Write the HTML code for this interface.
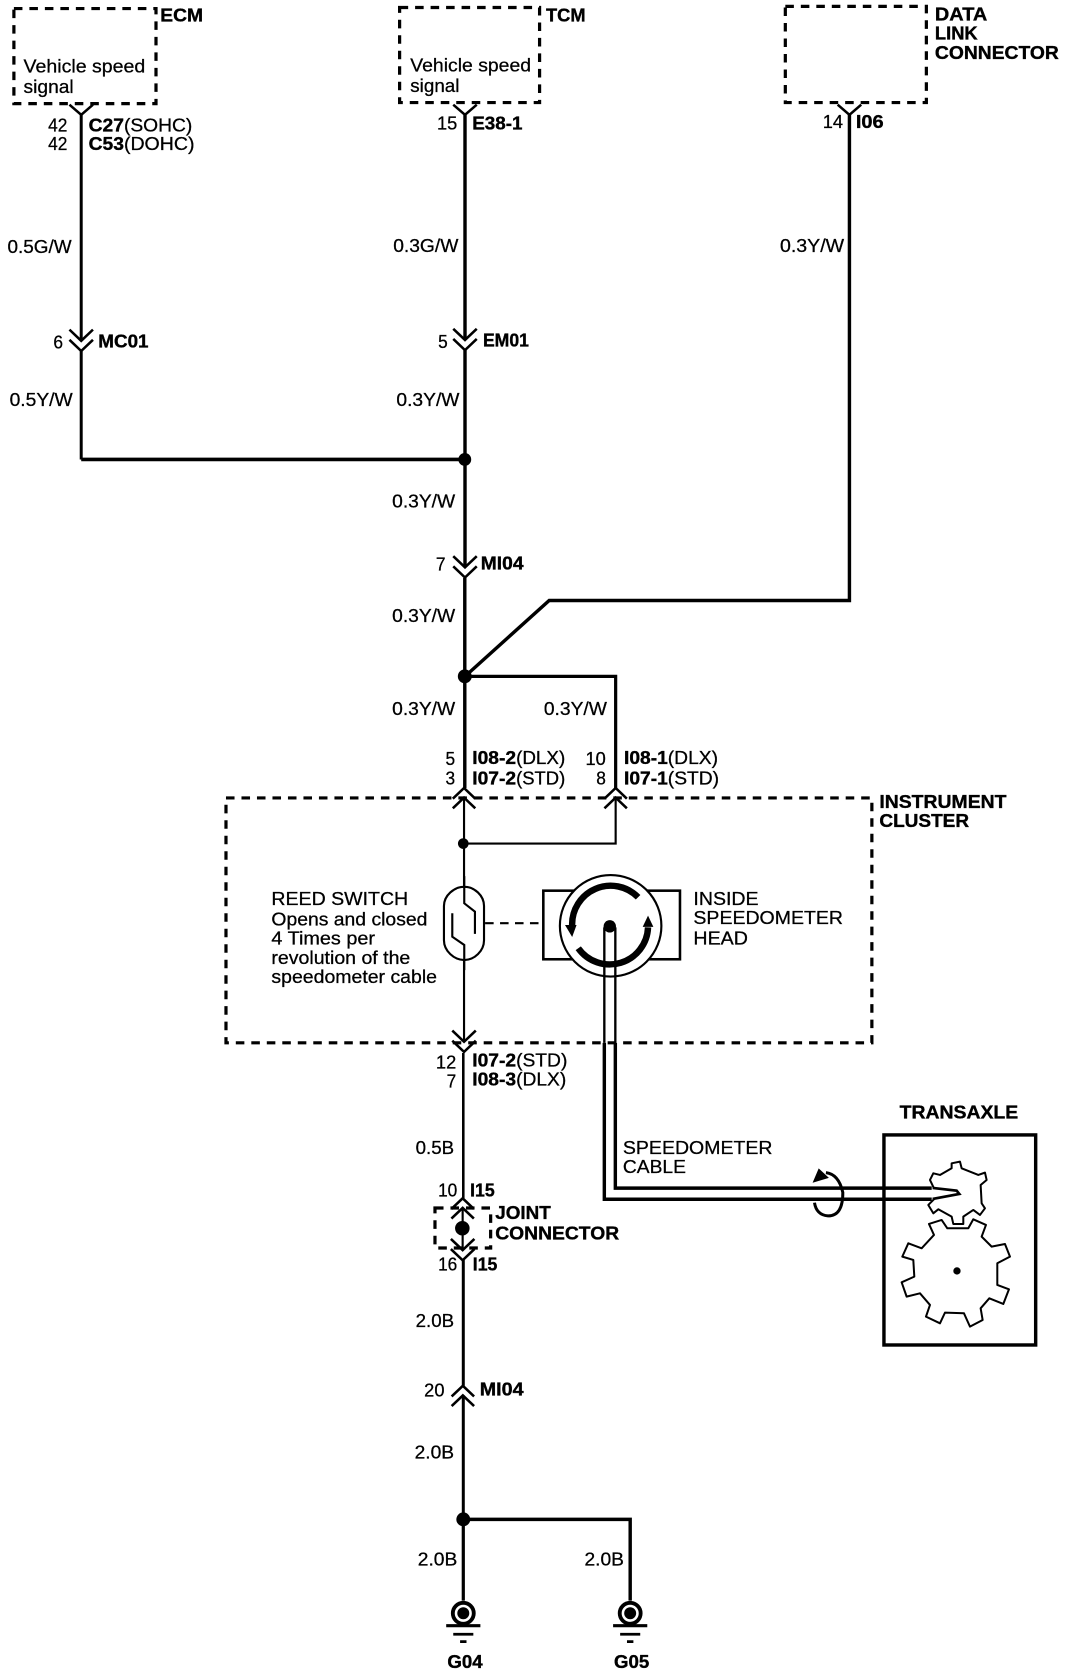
<!DOCTYPE html>
<html>
<head>
<meta charset="utf-8">
<title>Vehicle speed signal circuit diagram</title>
<style>
html,body{margin:0;padding:0;background:#fff;width:1072px;height:1676px;overflow:hidden}
svg{display:block}
text{font-family:"Liberation Sans",sans-serif;font-size:17px;fill:#000;stroke:#000;stroke-width:.25}
.b{font-weight:bold;stroke-width:.35}
.w{fill:none;stroke:#000;stroke-linecap:butt;stroke-linejoin:miter}
.d{fill:none;stroke:#000;stroke-width:3;stroke-dasharray:8 6.5}
</style>
</head>
<body>
<svg xmlns="http://www.w3.org/2000/svg" width="1072" height="1676" viewBox="0 0 1003.3 1568.6">
<defs>
<path id="dn" class="w" stroke-width="2.4" d="M-11,-10.5 L0,0 L11,-10.5 M-11,-1 L0,9.5 L11,-1"/>
<path id="up" class="w" stroke-width="2.4" d="M-10.5,10 L0,0 L10.5,10 M-10.5,19 L0,9 L10.5,19"/>
<path id="y" class="w" stroke-width="2.4" d="M-11,-9.5 L0,0 L11,-9.5"/>
<g id="gnd">
<circle cx="0" cy="0" r="9.8" fill="#fff" stroke="#000" stroke-width="3.6"/>
<circle cx="0" cy="0" r="5.6" fill="#000"/>
<path class="w" stroke-width="3" d="M-16,11.6 H16"/>
<path class="w" stroke-width="2.6" d="M-9.4,19.6 H9.4 M-3,26.5 H3"/>
</g>
</defs>

<!-- module boxes -->
<rect class="d" x="13" y="8" width="133" height="89"/>
<rect class="d" x="374" y="7" width="131" height="89"/>
<rect class="d" x="735" y="6" width="132" height="90"/>

<!-- wires -->
<path class="w" stroke-width="2.8" d="M76,107.5 V319 M76,328 V430"/>
<path class="w" stroke-width="3.4" d="M76,430 H435"/>
<path class="w" stroke-width="3.2" d="M435.2,107.5 V318 M435.2,327.5 V531 M435,540.8 V737.5"/>
<path class="w" stroke-width="3.2" d="M795,107.5 V562 H514 L435.2,633"/>
<path class="w" stroke-width="3" d="M435,633 H576.2 V737.5"/>
<path class="w" stroke-width="2" d="M434.3,746.5 V975 M434.3,789.5 H576.2 V746.5"/>
<path class="w" stroke-width="2.4" d="M433.6,985.5 V1121.5"/>
<path class="w" stroke-width="2" d="M433,1130 V1170.5"/>
<path class="w" stroke-width="2.8" d="M433.6,1179 V1297 M433.6,1306 V1422"/>
<path class="w" stroke-width="3.2" d="M433.6,1422 H589.8 V1498"/>
<path class="w" stroke-width="3" d="M433.6,1422 V1498"/>

<circle cx="435" cy="430" r="6" fill="#000"/>
<circle cx="435" cy="633" r="6.5" fill="#000"/>
<circle cx="433.6" cy="789.5" r="5" fill="#000"/>
<circle cx="433.6" cy="1422" r="6.5" fill="#000"/>
<circle cx="432.7" cy="1149.5" r="6.8" fill="#000"/>

<!-- connectors -->
<use href="#y" x="76" y="107.5"/>
<use href="#y" x="435.2" y="107.5"/>
<use href="#y" x="795" y="107.5"/>
<use href="#dn" x="76" y="319"/>
<use href="#dn" x="435.2" y="318.2"/>
<use href="#dn" x="435.2" y="531"/>
<use href="#up" x="434.3" y="737.5"/>
<use href="#up" x="576.2" y="737.5"/>
<use href="#dn" x="434.3" y="975"/>
<use href="#up" x="433.2" y="1297"/>
<use href="#up" x="433" y="1121.5"/>
<use href="#dn" x="433" y="1170"/>

<!-- cluster + joint -->
<rect class="d" x="211.5" y="746.8" width="604.5" height="229.2"/>
<rect class="d" x="407.1" y="1130.6" width="52.1" height="37.4"/>

<!-- reed switch -->
<path d="M434.5,830 C444,830 453,838 453,848 V880 C453,890 444,898.5 434.5,898.5 C425,898.5 415.5,890 415.5,880 V848 C415.5,838 425,830 434.5,830 Z" fill="#fff" stroke="#000" stroke-width="2"/>
<path class="w" stroke-width="2" d="M434.5,820 V845.4 L444.5,853.2 V874 M423.3,854.7 V876.7 L434.5,884.4 V908"/>
<path class="w" stroke-width="2" stroke-dasharray="8 6" d="M454,864 H508.5"/>

<!-- speedometer head -->
<rect x="508.5" y="833.6" width="127.9" height="64.2" fill="#fff" stroke="#000" stroke-width="2.4"/>
<circle cx="571.5" cy="866.5" r="47.5" fill="#fff" stroke="#000" stroke-width="2"/>
<path class="w" stroke-width="6" d="M597.2,839.8 A36,36 0 0 0 535.5,866.5"/>
<path d="M528.8,865.7 L539.6,865.7 L535.5,877 Z" fill="#000"/>
<path class="w" stroke-width="6" d="M541.2,887.5 A36,36 0 0 0 606.5,868"/>
<path d="M601.5,867.5 L611.5,867.5 L606.5,857 Z" fill="#000"/>
<path class="w" stroke-width="2.2" d="M565.6,868 V976 M575.9,868 V976"/>
<circle cx="570.7" cy="867" r="5.8" fill="#000"/>

<!-- speedometer cable -->
<path class="w" stroke-width="3.2" d="M565.6,976 V1122.4 H872"/>
<path class="w" stroke-width="3.2" d="M575.9,976 V1112 H872"/>

<!-- transaxle -->
<rect x="827.3" y="1062.2" width="142" height="196.6" fill="none" stroke="#000" stroke-width="3.2"/>
<g transform="scale(0.93589) translate(860,1120) scale(0.33333)">
<path fill="#fff" stroke="#000" stroke-width="6" stroke-linejoin="round" d="M207,312 L245,300 L262,325 L325,325 L340,298 L378,315 L365,350 L395,380 L435,372 L450,410 L412,430 L412,495 L447,508 L430,552 L388,535 L362,565 L368,600 L330,620 L312,580 L255,578 L240,610 L198,590 L210,555 L180,520 L140,530 L125,487 L163,470 L160,420 L127,410 L145,370 L185,385 L222,345 Z"/>
<circle cx="291" cy="453" r="11" fill="#000"/>
<path fill="#fff" stroke="#000" stroke-width="6" stroke-linejoin="round" d="M275,130 L300,125 L305,145 L355,165 L375,158 L380,180 L362,195 L365,250 L375,265 L360,285 L340,270 L310,290 L310,312 L280,312 L275,290 L235,268 L220,280 L205,255 L225,235 L222,205 L210,180 L220,160 L240,165 L275,145 Z"/>
<path fill="#fff" stroke="#000" stroke-width="8" d="M218,204 L290,212 L298,222 L218,237"/>
</g>

<!-- rotation arrow -->
<path class="w" stroke-width="2.8" d="M773,1097.5 Q785,1099 788.8,1116 Q789,1138 775,1138 Q764,1137 762.3,1125.6"/>
<path d="M766.4,1094.4 L761.4,1106.2 L774.8,1102.2 Z" fill="#000" stroke="#000" stroke-width="1"/>

<!-- grounds -->
<use href="#gnd" x="433.6" y="1509.9"/>
<use href="#gnd" x="589.8" y="1509.9"/>

<!-- labels -->
<text class="b" x="150" y="20" textLength="40" lengthAdjust="spacingAndGlyphs">ECM</text>
<text class="b" x="511" y="20" textLength="37" lengthAdjust="spacingAndGlyphs">TCM</text>
<text class="b" x="875" y="19" textLength="49" lengthAdjust="spacingAndGlyphs">DATA</text>
<text class="b" x="875" y="37" textLength="40" lengthAdjust="spacingAndGlyphs">LINK</text>
<text class="b" x="875" y="55" textLength="116" lengthAdjust="spacingAndGlyphs">CONNECTOR</text>
<text x="22" y="68" textLength="114" lengthAdjust="spacingAndGlyphs">Vehicle speed</text>
<text x="22" y="87" textLength="47" lengthAdjust="spacingAndGlyphs">signal</text>
<text x="384" y="67" textLength="113" lengthAdjust="spacingAndGlyphs">Vehicle speed</text>
<text x="384" y="86" textLength="46" lengthAdjust="spacingAndGlyphs">signal</text>

<text x="45" y="123" textLength="18" lengthAdjust="spacingAndGlyphs">42</text>
<text x="45" y="140.5" textLength="18" lengthAdjust="spacingAndGlyphs">42</text>
<text class="b" x="83" y="123" textLength="33" lengthAdjust="spacingAndGlyphs">C27</text>
<text x="116" y="123" textLength="64" lengthAdjust="spacingAndGlyphs">(SOHC)</text>
<text class="b" x="83" y="140.5" textLength="33" lengthAdjust="spacingAndGlyphs">C53</text>
<text x="116" y="140.5" textLength="66" lengthAdjust="spacingAndGlyphs">(DOHC)</text>
<text x="409" y="121" textLength="19" lengthAdjust="spacingAndGlyphs">15</text>
<text class="b" x="442" y="121" textLength="47" lengthAdjust="spacingAndGlyphs">E38-1</text>
<text x="770" y="120" textLength="19" lengthAdjust="spacingAndGlyphs">14</text>
<text class="b" x="801" y="120" textLength="26" lengthAdjust="spacingAndGlyphs">I06</text>

<text x="7" y="237" textLength="60" lengthAdjust="spacingAndGlyphs">0.5G/W</text>
<text x="368" y="236" textLength="61" lengthAdjust="spacingAndGlyphs">0.3G/W</text>
<text x="730" y="236" textLength="60" lengthAdjust="spacingAndGlyphs">0.3Y/W</text>
<text x="50" y="326" textLength="9" lengthAdjust="spacingAndGlyphs">6</text>
<text class="b" x="92" y="325" textLength="47" lengthAdjust="spacingAndGlyphs">MC01</text>
<text x="410" y="325.5" textLength="9" lengthAdjust="spacingAndGlyphs">5</text>
<text class="b" x="452" y="324.5" textLength="43" lengthAdjust="spacingAndGlyphs">EM01</text>
<text x="9" y="380" textLength="59" lengthAdjust="spacingAndGlyphs">0.5Y/W</text>
<text x="371" y="380" textLength="59" lengthAdjust="spacingAndGlyphs">0.3Y/W</text>
<text x="367" y="475" textLength="59" lengthAdjust="spacingAndGlyphs">0.3Y/W</text>
<text x="408" y="534" textLength="9" lengthAdjust="spacingAndGlyphs">7</text>
<text class="b" x="450" y="533" textLength="40" lengthAdjust="spacingAndGlyphs">MI04</text>
<text x="367" y="582" textLength="59" lengthAdjust="spacingAndGlyphs">0.3Y/W</text>
<text x="367" y="669" textLength="59" lengthAdjust="spacingAndGlyphs">0.3Y/W</text>
<text x="509" y="669" textLength="59" lengthAdjust="spacingAndGlyphs">0.3Y/W</text>

<text x="417" y="716" textLength="9" lengthAdjust="spacingAndGlyphs">5</text>
<text x="417" y="734" textLength="9" lengthAdjust="spacingAndGlyphs">3</text>
<text class="b" x="442" y="715" textLength="41" lengthAdjust="spacingAndGlyphs">I08-2</text>
<text x="483" y="715" textLength="46" lengthAdjust="spacingAndGlyphs">(DLX)</text>
<text class="b" x="442" y="734" textLength="41" lengthAdjust="spacingAndGlyphs">I07-2</text>
<text x="483" y="734" textLength="46" lengthAdjust="spacingAndGlyphs">(STD)</text>
<text x="548" y="716" textLength="19" lengthAdjust="spacingAndGlyphs">10</text>
<text x="558" y="734" textLength="9" lengthAdjust="spacingAndGlyphs">8</text>
<text class="b" x="584" y="715" textLength="41" lengthAdjust="spacingAndGlyphs">I08-1</text>
<text x="625" y="715" textLength="47" lengthAdjust="spacingAndGlyphs">(DLX)</text>
<text class="b" x="584" y="734" textLength="41" lengthAdjust="spacingAndGlyphs">I07-1</text>
<text x="625" y="734" textLength="48" lengthAdjust="spacingAndGlyphs">(STD)</text>

<text class="b" x="823" y="756" textLength="119" lengthAdjust="spacingAndGlyphs">INSTRUMENT</text>
<text class="b" x="823" y="774" textLength="84" lengthAdjust="spacingAndGlyphs">CLUSTER</text>

<text x="254" y="847" textLength="128" lengthAdjust="spacingAndGlyphs">REED SWITCH</text>
<text x="254" y="866" textLength="146" lengthAdjust="spacingAndGlyphs">Opens and closed</text>
<text x="254" y="884" textLength="97" lengthAdjust="spacingAndGlyphs">4 Times per</text>
<text x="254" y="902" textLength="130" lengthAdjust="spacingAndGlyphs">revolution of the</text>
<text x="254" y="920" textLength="155" lengthAdjust="spacingAndGlyphs">speedometer cable</text>
<text x="649" y="847" textLength="61" lengthAdjust="spacingAndGlyphs">INSIDE</text>
<text x="649" y="865" textLength="140" lengthAdjust="spacingAndGlyphs">SPEEDOMETER</text>
<text x="649" y="884" textLength="51" lengthAdjust="spacingAndGlyphs">HEAD</text>

<text x="408" y="1000" textLength="19" lengthAdjust="spacingAndGlyphs">12</text>
<text x="418" y="1018" textLength="9" lengthAdjust="spacingAndGlyphs">7</text>
<text class="b" x="442" y="998" textLength="41" lengthAdjust="spacingAndGlyphs">I07-2</text>
<text x="483" y="998" textLength="48" lengthAdjust="spacingAndGlyphs">(STD)</text>
<text class="b" x="442" y="1016" textLength="41" lengthAdjust="spacingAndGlyphs">I08-3</text>
<text x="483" y="1016" textLength="47" lengthAdjust="spacingAndGlyphs">(DLX)</text>

<text x="389" y="1080" textLength="36" lengthAdjust="spacingAndGlyphs">0.5B</text>
<text x="583" y="1080" textLength="140" lengthAdjust="spacingAndGlyphs">SPEEDOMETER</text>
<text x="583" y="1098" textLength="59" lengthAdjust="spacingAndGlyphs">CABLE</text>
<text class="b" x="842" y="1047" textLength="111" lengthAdjust="spacingAndGlyphs">TRANSAXLE</text>

<text x="410" y="1120" textLength="18" lengthAdjust="spacingAndGlyphs">10</text>
<text class="b" x="440" y="1120" textLength="23" lengthAdjust="spacingAndGlyphs">I15</text>
<text class="b" x="463.5" y="1141" textLength="52" lengthAdjust="spacingAndGlyphs">JOINT</text>
<text class="b" x="463.5" y="1160" textLength="116" lengthAdjust="spacingAndGlyphs">CONNECTOR</text>
<text x="410" y="1189" textLength="18" lengthAdjust="spacingAndGlyphs">16</text>
<text class="b" x="442.5" y="1189" textLength="23" lengthAdjust="spacingAndGlyphs">I15</text>

<text x="389" y="1242" textLength="36" lengthAdjust="spacingAndGlyphs">2.0B</text>
<text x="397" y="1307" textLength="19" lengthAdjust="spacingAndGlyphs">20</text>
<text class="b" x="449" y="1306" textLength="41" lengthAdjust="spacingAndGlyphs">MI04</text>
<text x="388" y="1365" textLength="37" lengthAdjust="spacingAndGlyphs">2.0B</text>
<text x="391" y="1465" textLength="37" lengthAdjust="spacingAndGlyphs">2.0B</text>
<text x="547" y="1465" textLength="37" lengthAdjust="spacingAndGlyphs">2.0B</text>
<text class="b" x="418.7" y="1561" textLength="33" lengthAdjust="spacingAndGlyphs">G04</text>
<text class="b" x="574.7" y="1561" textLength="33" lengthAdjust="spacingAndGlyphs">G05</text>
</svg>
</body>
</html>
